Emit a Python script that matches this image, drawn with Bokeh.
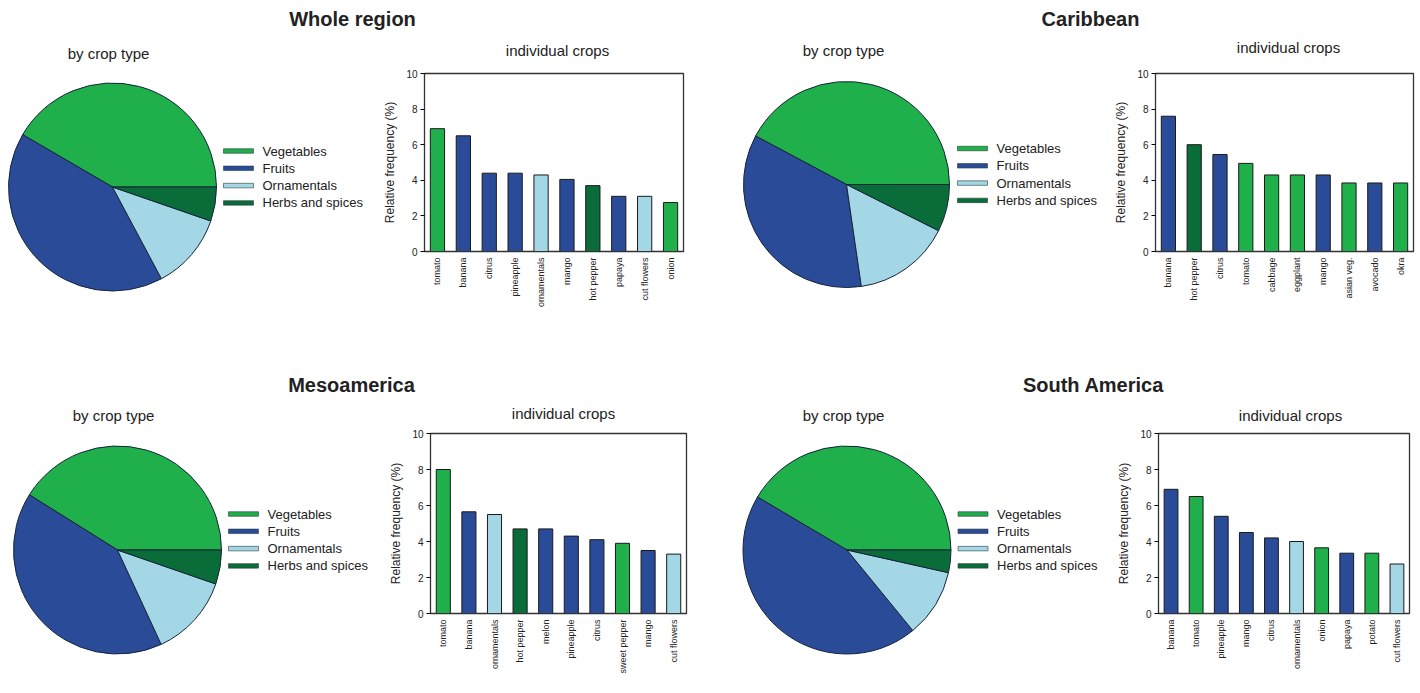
import math
from bokeh.plotting import figure
from bokeh.layouts import column, row
from bokeh.models import Range1d, FixedTicker, ColumnDataSource
from bokeh.core.properties import value
from bokeh.embed import file_html
from bokeh.resources import INLINE

FONT = "Liberation Sans"
TXT = "#222222"

# ---------------- data ----------------
type_names = ["Vegetables", "Fruits", "Ornamentals", "Herbs and spices"]
type_colors = ["#20b04b", "#2a4c98", "#a3d7e6", "#0a6c38"]

region_names = ["Whole region", "Caribbean", "Mesoamerica", "South America"]

# share of each crop type (%), order as type_names
whole_share = [41.6, 41.2, 11.9, 5.3]
carib_share = [42.2, 35.1, 15.3, 7.4]
meso_share = [41.1, 40.8, 12.8, 5.3]
south_share = [41.5, 44.4, 10.6, 3.5]

whole_crops = ["tomato", "banana", "citrus", "pineapple", "ornamentals", "mango",
               "hot pepper", "papaya", "cut flowers", "onion"]
whole_freq = [6.9, 6.5, 4.4, 4.4, 4.3, 4.05, 3.7, 3.1, 3.1, 2.75]
whole_type = ["Vegetables", "Fruits", "Fruits", "Fruits", "Ornamentals", "Fruits",
              "Herbs and spices", "Fruits", "Ornamentals", "Vegetables"]

carib_crops = ["banana", "hot pepper", "citrus", "tomato", "cabbage", "eggplant",
               "mango", "asian veg.", "avocado", "okra"]
carib_freq = [7.6, 6.0, 5.45, 4.95, 4.3, 4.3, 4.3, 3.85, 3.85, 3.85]
carib_type = ["Fruits", "Herbs and spices", "Fruits", "Vegetables", "Vegetables",
              "Vegetables", "Fruits", "Vegetables", "Fruits", "Vegetables"]

meso_crops = ["tomato", "banana", "ornamentals", "hot pepper", "melon", "pineapple",
              "citrus", "sweet pepper", "mango", "cut flowers"]
meso_freq = [8.0, 5.65, 5.5, 4.7, 4.7, 4.3, 4.1, 3.9, 3.5, 3.3]
meso_type = ["Vegetables", "Fruits", "Ornamentals", "Herbs and spices", "Fruits",
             "Fruits", "Fruits", "Vegetables", "Fruits", "Ornamentals"]

south_crops = ["banana", "tomato", "pineapple", "mango", "citrus", "ornamentals",
               "onion", "papaya", "potato", "cut flowers"]
south_freq = [6.9, 6.5, 5.4, 4.5, 4.2, 4.0, 3.65, 3.35, 3.35, 2.75]
south_type = ["Fruits", "Vegetables", "Fruits", "Fruits", "Fruits", "Ornamentals",
              "Vegetables", "Fruits", "Vegetables", "Ornamentals"]

# ---------------- helpers ----------------
color_of = dict(zip(type_names, type_colors))


def blank(w, h):
    p = figure(width=w, height=h, x_range=Range1d(0, w), y_range=Range1d(0, h),
               x_axis_type=None, y_axis_type=None, output_backend="svg",
               toolbar_location=None, min_border=0)
    p.grid.visible = False
    p.outline_line_color = None
    p.background_fill_color = "white"
    p.border_fill_color = "white"
    try:
        p.frame_align = False
    except Exception:
        pass
    return p


def text(p, x, y, s, size, bold=False, align="center"):
    p.text(x=[x], y=[y], text=[s], text_font=value(FONT),
           text_font_size=f"{size}px", text_font_style="bold" if bold else "normal",
           text_align=align, text_baseline="middle", text_color=TXT)


def pie_fig(shares, w, h, cx, cy_top, r):
    p = blank(w, h)
    cy = h - cy_top
    total = sum(shares)
    starts, ends = [], []
    cum = 0.0
    for s in shares:
        starts.append(2 * math.pi * cum / total)
        cum += s
        ends.append(2 * math.pi * cum / total)
    src = ColumnDataSource(dict(start=starts, end=ends, color=type_colors))
    p.wedge(x=cx, y=cy, radius=r, start_angle="start", end_angle="end",
            fill_color="color", line_color="#17253a", line_width=1, source=src)
    # legend
    ly = [cy + 36 - 17.3 * i for i in range(len(type_names))]
    p.rect(x=[cx + 126] * 4, y=ly, width=30, height=4.5, fill_color=type_colors,
           line_color="#2a3a3a", line_width=0.6)
    p.text(x=[cx + 150] * 4, y=ly, text=type_names, text_font=value(FONT),
           text_font_size="13px", text_align="left", text_baseline="middle",
           text_color=TXT)
    return p


def bar_fig(crops, freq, types, w, h, fl, fr, ft, fb):
    p = figure(x_range=crops, y_range=Range1d(0, 10), width=w, height=h,
               output_backend="svg", toolbar_location=None,
               min_border_left=fl, min_border_right=w - fr,
               min_border_top=ft, min_border_bottom=h - fb)
    p.background_fill_color = "white"
    p.border_fill_color = "white"
    p.grid.visible = False
    p.outline_line_color = "#333333"
    p.outline_line_width = 1.3
    p.vbar(x=crops, top=freq, width=0.55, fill_color=[color_of[t] for t in types],
           line_color="#1a1a1a", line_width=1)
    p.yaxis.ticker = FixedTicker(ticks=[0, 2, 4, 6, 8, 10])
    p.yaxis.minor_tick_line_color = None
    p.yaxis.major_tick_in = 0
    p.yaxis.major_tick_out = 4
    p.yaxis.major_label_standoff = 3
    p.yaxis.major_label_text_font = FONT
    p.yaxis.major_label_text_font_size = "10px"
    p.yaxis.major_label_text_color = TXT
    p.yaxis.axis_label = "Relative frequency (%)"
    p.yaxis.axis_label_text_font = FONT
    p.yaxis.axis_label_text_font_size = "12px"
    p.yaxis.axis_label_text_font_style = "normal"
    p.yaxis.axis_label_text_color = TXT
    p.yaxis.axis_label_standoff = 6
    p.axis.axis_line_color = "#333333"
    p.xaxis.major_tick_line_color = None
    p.xaxis.major_tick_out = 0
    p.xaxis.major_label_standoff = 6
    p.xaxis.major_label_orientation = math.pi / 2
    p.xaxis.major_label_text_font = FONT
    p.xaxis.major_label_text_font_size = "9px"
    p.xaxis.major_label_text_color = TXT
    return p


# ---------------- layout (page pixels) ----------------
W = 1420
stripA_h, rowA_h = 64, 308
stripB_h, rowB_h = 52, 269

stripA = blank(W, stripA_h)
text(stripA, 352, stripA_h - 18, region_names[0], 20, bold=True)
text(stripA, 1090, stripA_h - 18, region_names[1], 20, bold=True)
text(stripA, 108, stripA_h - 53, "by crop type", 15)
text(stripA, 843, stripA_h - 50, "by crop type", 15)
text(stripA, 557, stripA_h - 50, "individual crops", 15)
text(stripA, 1288, stripA_h - 47, "individual crops", 15)

stripB = blank(W, stripB_h)
text(stripB, 351, stripB_h - 12, region_names[2], 20, bold=True)
text(stripB, 1093, stripB_h - 12, region_names[3], 20, bold=True)
text(stripB, 113, stripB_h - 43, "by crop type", 15)
text(stripB, 843, stripB_h - 43, "by crop type", 15)
text(stripB, 563, stripB_h - 41, "individual crops", 15)
text(stripB, 1290, stripB_h - 43, "individual crops", 15)

pieA1 = pie_fig(whole_share, 380, rowA_h, 112, 122.5, 104)
barA1 = bar_fig(whole_crops, whole_freq, whole_type, 359, rowA_h, 43, 303, 9, 187)
pieA2 = pie_fig(carib_share, 372, rowA_h, 107, 120, 103)
barA2 = bar_fig(carib_crops, carib_freq, carib_type, 309, rowA_h, 41, 302, 9, 187)

pieB1 = pie_fig(meso_share, 386, rowB_h, 117, 125.5, 104)
barB1 = bar_fig(meso_crops, meso_freq, meso_type, 353, rowB_h, 43, 300, 9, 189)
pieB2 = pie_fig(south_share, 375, rowB_h, 107.5, 125.5, 104)
barB2 = bar_fig(south_crops, south_freq, south_type, 306, rowB_h, 41, 295, 9, 189)

layout = column(
    stripA,
    row(pieA1, barA1, pieA2, barA2, spacing=0),
    stripB,
    row(pieB1, barB1, pieB2, barB2, spacing=0),
    spacing=0,
)

open("out.html", "w").write(file_html(layout, INLINE))
